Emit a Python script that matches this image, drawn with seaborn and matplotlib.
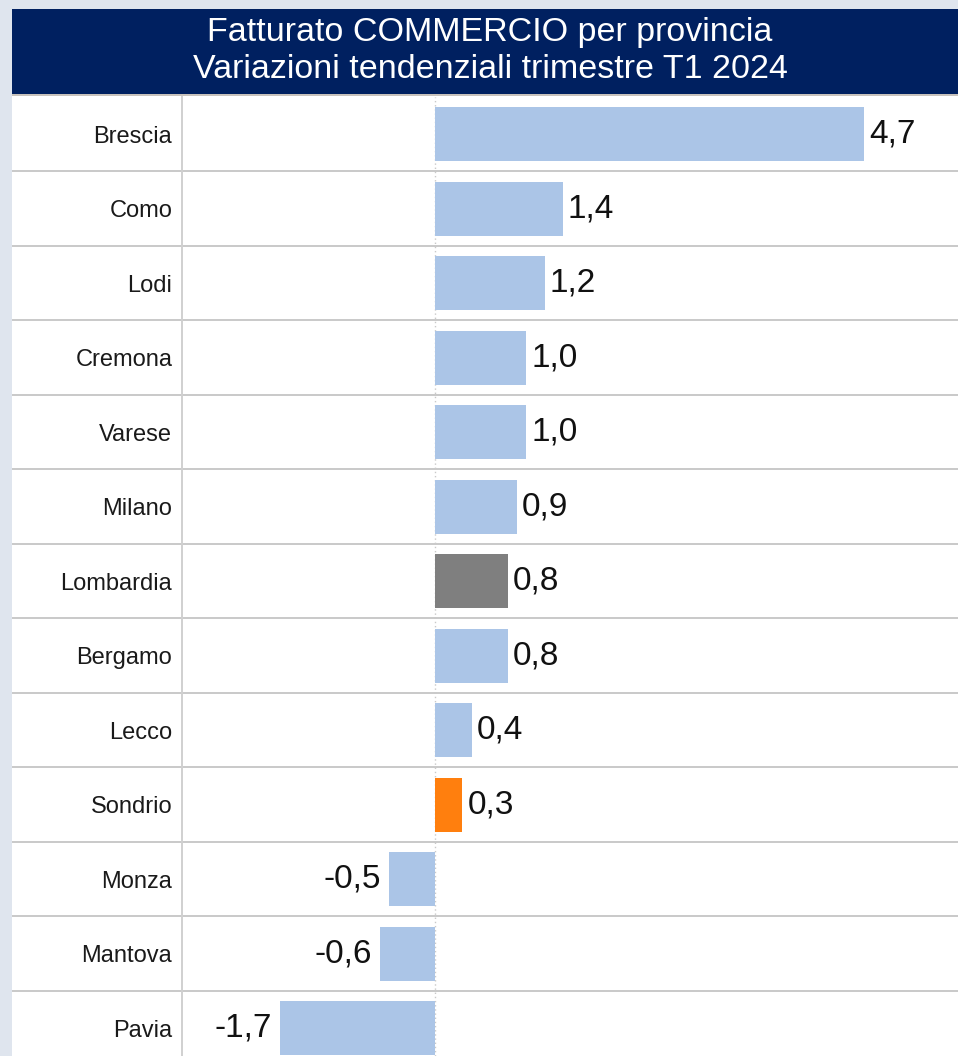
import matplotlib
matplotlib.use("Agg")
import matplotlib.pyplot as plt
import seaborn as sns
import pandas as pd
from matplotlib.patches import Rectangle

# Data: year-on-year change in trade turnover, Q1 2024, by province
province = ["Brescia", "Como", "Lodi", "Cremona", "Varese", "Milano", "Lombardia",
            "Bergamo", "Lecco", "Sondrio", "Monza", "Mantova", "Pavia"]
variazione = [4.7, 1.4, 1.2, 1.0, 1.0, 0.9, 0.8, 0.8, 0.4, 0.3, -0.5, -0.6, -1.7]
titolo = ["Fatturato COMMERCIO per provincia",
          "Variazioni tendenziali trimestre T1 2024"]

BLUE = "#abc5e7"
GREY = "#7f7f7f"
ORANGE = "#ff7f0e"
colori = {p: BLUE for p in province}
colori["Lombardia"] = GREY
colori["Sondrio"] = ORANGE

df = pd.DataFrame({"provincia": province, "var": variazione})

sns.set_theme(style="white")
plt.rcParams["font.family"] = ["Liberation Sans", "DejaVu Sans"]

W, H = 958, 1056
fig = plt.figure(figsize=(W / 100, H / 100), dpi=100)
fig.patch.set_facecolor("#dfe5ee")

def fx(px):
    return px / W

def fy(py):
    return 1 - py / H

# white panel and navy title band
fig.add_artist(Rectangle((fx(12), 0), fx(946), fy(96), transform=fig.transFigure,
                         facecolor="white", edgecolor="none", zorder=0))
fig.add_artist(Rectangle((fx(12), fy(94)), fx(946), 85 / H, transform=fig.transFigure,
                         facecolor="#002060", edgecolor="none", zorder=0))
fig.add_artist(Rectangle((fx(12), fy(96)), fx(946), 2 / H, transform=fig.transFigure,
                         facecolor="#c8c2bc", edgecolor="none", zorder=0))
fig.text(fx(490), fy(33), titolo[0], color="white", fontsize=24.5,
         ha="center", va="center")
fig.text(fx(490), fy(70), titolo[1], color="white", fontsize=24.5,
         ha="center", va="center")

row_h = 74.5
ax = fig.add_axes([fx(182), 0, fx(W - 182), fy(97)])
ax.set_facecolor("white")

sns.barplot(data=df, x="var", y="provincia", hue="provincia", palette=colori,
            orient="h", dodge=False, width=0.73, legend=False, ax=ax,
            saturation=1, linewidth=0, zorder=3)

px_per_unit = 91.3
ax.set_xlim((182 - 435) / px_per_unit, (W - 435) / px_per_unit)
ax.set_ylim(-0.5 + (H - 97) / row_h, -0.5)

# row separators spanning the label column
sep = [i - 0.5 for i in range(1, len(province) + 1)]
x0 = (12 - 182) / (W - 182)
ax.hlines(sep, x0, 1, transform=ax.get_yaxis_transform(), colors="#c9c9c9",
          linewidth=1.4, clip_on=False, zorder=1)
ax.axvline(0, color="#c9c9c9", linestyle=(0, (1, 2)), linewidth=1, zorder=2)

for s in ["top", "right", "bottom"]:
    ax.spines[s].set_visible(False)
ax.spines["left"].set_color("#d0d0d0")
ax.spines["left"].set_linewidth(1.4)

ax.set_xlabel("")
ax.set_ylabel("")
ax.set_xticks([])
ax.tick_params(axis="y", length=0, pad=7, labelsize=17, labelcolor="#1a1a1a")

off = 5 / px_per_unit
for i, v in enumerate(variazione):
    txt = f"{v:.1f}".replace(".", ",")
    if v >= 0:
        ax.text(v + off, i, txt, ha="left", va="center", fontsize=24,
                color="#111111", zorder=4)
    else:
        ax.text(v - 1.6 * off, i, txt, ha="right", va="center", fontsize=24,
                color="#111111", zorder=4)

fig.savefig("out.png", dpi=100, facecolor=fig.get_facecolor())
